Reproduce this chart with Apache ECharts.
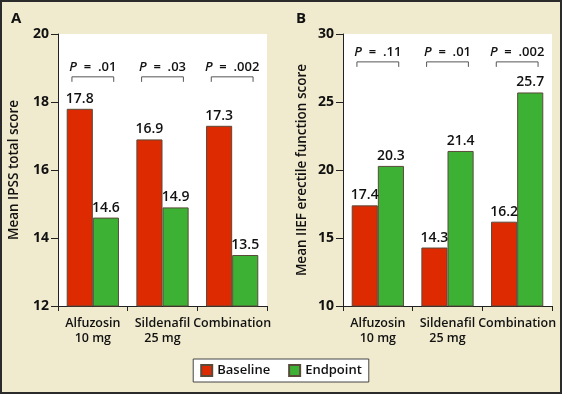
<!DOCTYPE html>
<html>
<head>
<meta charset="utf-8">
<script src="https://cdn.jsdelivr.net/npm/echarts@6/dist/echarts.min.js"></script>
<style>
  html, body { margin: 0; padding: 0; background: #f0ebce; }
  #chart { width: 562px; height: 394px; }
</style>
</head>
<body>
<div id="chart"></div>
<script>
const categories = ['Alfuzosin\n10 mg', 'Sildenafil\n25 mg', 'Combination']
const seriesNames = ['Baseline', 'Endpoint']
const ipssBaseline = [17.8, 16.9, 17.3]
const ipssEndpoint = [14.6, 14.9, 13.5]
const iiefBaseline = [17.4, 14.3, 16.2]
const iiefEndpoint = [20.3, 21.4, 25.7]
const ipssP = ['.01', '.03', '.002']
const iiefP = ['.11', '.01', '.002']
const ipssTicks = [12, 20, 2]   // min, max, interval
const iiefTicks = [10, 30, 5]

const RED = '#dd2a00'
const GREEN = '#3db134'
const FONT = 'Open Sans'

const chart = echarts.init(document.getElementById('chart'))

// P-value bracket over each category pair
function bracketSeries(axisIdx, pValues, level) {
  return {
    type: 'custom',
    xAxisIndex: axisIdx,
    yAxisIndex: axisIdx,
    silent: true,
    data: pValues.map((p, i) => [i, level]),
    renderItem(params, api) {
      const c = api.coord([api.value(0), api.value(1)])
      const w = api.size([1, 0])[0]
      const half = w * 0.3
      const x0 = c[0] - half
      const x1 = c[0] + half
      const y = c[1]
      return {
        type: 'group',
        children: [
          {
            type: 'polyline',
            shape: { points: [[x0, y + 5], [x0, y], [x1, y], [x1, y + 5]] },
            style: { stroke: '#555', lineWidth: 1, fill: null }
          },
          {
            type: 'text',
            x: c[0],
            y: y - 10,
            style: {
              text: '{i|P}  =  ' + pValues[params.dataIndex],
              align: 'center',
              verticalAlign: 'middle',
              fontFamily: FONT,
              fontSize: 13,
              fontWeight: 600,
              fill: '#111',
              rich: { i: { fontStyle: 'italic', fontFamily: FONT, fontSize: 13, fontWeight: 600 } }
            }
          }
        ]
      }
    }
  }
}

function barSeries(name, data, color, idx) {
  return {
    name,
    type: 'bar',
    xAxisIndex: idx,
    yAxisIndex: idx,
    data,
    barGap: '0%',
    barCategoryGap: '25%',
    itemStyle: { color, borderColor: '#5a4a3a', borderWidth: 1 },
    label: {
      show: true,
      position: 'top',
      distance: 3,
      color: '#111',
      fontFamily: FONT,
      fontSize: 14,
      fontWeight: 600
    }
  }
}

function xAxis(idx) {
  return {
    type: 'category',
    gridIndex: idx,
    data: categories,
    axisLine: { lineStyle: { color: '#222', width: 1 } },
    axisTick: { show: true, length: 5, lineStyle: { color: '#222' } },
    axisLabel: {
      color: '#111',
      fontFamily: FONT,
      fontSize: 12.5,
      fontWeight: 600,
      lineHeight: 15,
      margin: 10,
      interval: 0
    }
  }
}

function yAxis(idx, ticks, name, gap) {
  return {
    type: 'value',
    gridIndex: idx,
    min: ticks[0],
    max: ticks[1],
    interval: ticks[2],
    name,
    nameLocation: 'middle',
    nameGap: gap,
    nameTextStyle: { color: '#111', fontFamily: FONT, fontSize: 13.5, fontWeight: 600 },
    axisLine: { show: true, lineStyle: { color: '#222', width: 1 } },
    axisTick: { show: true, length: 7, lineStyle: { color: '#222' } },
    axisLabel: { color: '#111', fontFamily: FONT, fontSize: 14, fontWeight: 700, margin: 9 },
    splitLine: { show: false }
  }
}

chart.setOption({
  backgroundColor: '#f0ebce',
  animation: false,
  textStyle: { fontFamily: FONT },
  title: [
    { text: 'A', left: 6, top: 6, textStyle: { fontFamily: FONT, fontSize: 15, fontWeight: 700, color: '#111' } },
    { text: 'B', left: 291, top: 6, textStyle: { fontFamily: FONT, fontSize: 15, fontWeight: 700, color: '#111' } }
  ],
  graphic: [
    {
      type: 'rect',
      silent: true,
      shape: { x: 1, y: 1, width: 560, height: 392 },
      style: { fill: null, stroke: '#2b2b2b', lineWidth: 2 }
    }
  ],
  grid: [
    { left: 58, top: 34, width: 209, height: 272, show: true, backgroundColor: '#fff', borderWidth: 0 },
    { left: 343, top: 34, width: 209, height: 272, show: true, backgroundColor: '#fff', borderWidth: 0 }
  ],
  legend: {
    data: seriesNames,
    left: 'center',
    top: 359,
    icon: 'rect',
    itemWidth: 11,
    itemHeight: 11,
    itemGap: 18,
    padding: [5, 7],
    backgroundColor: '#fff',
    borderColor: '#444',
    borderWidth: 1,
    textStyle: { color: '#111', fontFamily: FONT, fontSize: 13, fontWeight: 600 }
  },
  xAxis: [xAxis(0), xAxis(1)],
  yAxis: [
    yAxis(0, ipssTicks, 'Mean IPSS total score', 37),
    yAxis(1, iiefTicks, 'Mean IIEF erectile function score', 34)
  ],
  series: [
    barSeries('Baseline', ipssBaseline, RED, 0),
    barSeries('Endpoint', ipssEndpoint, GREEN, 0),
    barSeries('Baseline', iiefBaseline, RED, 1),
    barSeries('Endpoint', iiefEndpoint, GREEN, 1),
    bracketSeries(0, ipssP, 18.74),
    bracketSeries(1, iiefP, 27.95)
  ]
})
</script>
</body>
</html>
